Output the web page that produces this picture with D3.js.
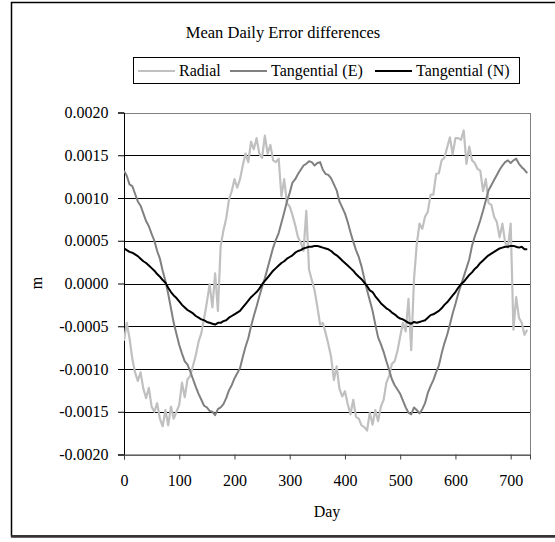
<!DOCTYPE html>
<html><head><meta charset="utf-8">
<script src="https://cdn.jsdelivr.net/npm/d3@7"></script>
<style>body{margin:0;background:#fff}svg{display:block}text{font-family:"Liberation Serif","Times New Roman",serif;fill:#000}</style>
</head><body>
<svg id="chart" width="555" height="542"></svg>
<script>
// Data: values in units of 1e-4 m, one sample every 5 days (day 0 .. 730)
const dayStep = 5;
const radial = [-6.7,-4.6,-6.4,-8.8,-10.4,-11.4,-10.4,-12.3,-13.4,-12.2,-14.4,-15.0,-14.0,-15.8,-16.7,-14.8,-16.6,-14.4,-15.8,-15.0,
-14.2,-11.6,-13.3,-11.2,-10.8,-9.6,-8.4,-6.8,-5.8,-4.1,-2.2,-0.1,-2.8,1.2,-3.2,4.4,6.2,7.6,9.8,10.8,
12.2,11.2,12.2,13.8,15.2,14.2,16.6,15.7,17.0,15.2,14.7,17.3,15.2,16.2,14.4,14.2,14.6,10.2,12.2,9.4,
9.0,8.0,6.8,5.4,4.8,3.8,8.5,1.6,0.4,-0.8,-2.7,-4.8,-4.6,-5.8,-7.1,-8.6,-11.3,-9.7,-12.3,-13.2,
-12.6,-14.1,-15.3,-13.6,-15.6,-15.8,-16.6,-16.8,-17.2,-15.1,-16.5,-14.8,-16.1,-14.4,-13.6,-11.6,-10.8,-9.4,-9.1,-7.9,
-6.2,-4.6,-5.6,-1.8,-7.8,0.5,4.6,7.0,6.4,7.8,8.4,10.4,10.4,12.8,12.9,14.4,14.7,15.9,17.1,15.1,
17.0,17.0,16.8,17.9,14.0,16.0,14.4,14.1,13.4,13.2,10.8,12.2,9.4,9.2,7.8,7.2,5.4,7.0,4.8,4.2,
7.0,-5.4,-1.6,-4.0,-4.6,-6.0,-5.4];
const tangentialE = [13.2,12.6,11.6,11.4,10.5,9.6,9.1,8.2,7.3,6.7,5.8,5.0,3.8,2.9,1.5,0.3,-1.2,-2.9,-4.6,-5.9,
-7.2,-8.2,-9.1,-9.5,-10.3,-11.2,-12.1,-12.9,-13.6,-14.3,-14.5,-14.9,-15.0,-15.4,-14.7,-14.5,-14.1,-13.4,-12.5,-11.9,
-11.1,-10.5,-9.9,-8.6,-7.4,-6.4,-5.0,-3.8,-2.7,-1.5,-0.4,0.6,1.8,3.0,4.2,5.1,5.9,7.1,8.3,9.6,
10.6,11.8,12.2,12.8,13.3,13.8,14.0,14.3,14.2,13.8,14.1,14.2,13.3,12.8,12.7,12.3,11.6,10.9,9.6,8.9,
8.2,7.2,6.0,4.9,3.9,3.1,2.0,0.6,-0.8,-2.0,-3.2,-4.8,-6.3,-7.1,-8.0,-9.1,-10.1,-11.2,-11.9,-12.4,
-12.9,-13.7,-14.5,-15.1,-15.3,-14.5,-14.8,-15.2,-14.7,-14.0,-12.8,-12.0,-11.3,-10.4,-9.6,-8.2,-7.0,-6.0,-4.8,-3.5,
-2.4,-1.2,-0.2,0.8,1.8,2.8,4.4,5.5,6.4,7.4,8.5,9.7,10.9,11.5,12.1,12.7,13.3,13.8,14.2,14.4,
14.1,14.4,14.6,14.0,13.6,13.3,12.9];
const tangentialN = [4.1,3.9,3.7,3.6,3.4,3.2,2.9,2.6,2.4,2.1,1.8,1.5,1.1,0.8,0.4,0.1,-0.5,-1.0,-1.4,-1.7,
-2.1,-2.5,-2.8,-3.1,-3.3,-3.5,-3.8,-4.0,-4.2,-4.3,-4.5,-4.6,-4.7,-4.8,-4.6,-4.6,-4.4,-4.3,-4.0,-3.8,
-3.6,-3.4,-3.2,-2.8,-2.4,-2.0,-1.6,-1.3,-1.0,-0.6,-0.1,0.3,0.7,1.1,1.5,1.8,2.1,2.4,2.6,2.9,
3.1,3.3,3.6,3.8,3.9,4.1,4.2,4.3,4.3,4.4,4.4,4.3,4.2,4.1,4.0,3.8,3.5,3.3,3.0,2.7,
2.4,2.1,1.8,1.5,1.1,0.8,0.5,0.1,-0.3,-0.8,-1.0,-1.5,-1.9,-2.3,-2.6,-2.9,-3.1,-3.4,-3.6,-3.9,
-4.1,-4.2,-4.4,-4.6,-4.7,-4.5,-4.6,-4.5,-4.4,-4.3,-4.0,-3.7,-3.6,-3.4,-3.2,-2.9,-2.5,-2.2,-1.8,-1.4,
-1.0,-0.5,-0.1,0.2,0.6,1.0,1.3,1.7,2.0,2.4,2.7,3.0,3.3,3.5,3.7,3.9,4.1,4.2,4.3,4.3,
4.4,4.4,4.3,4.2,4.3,4.0,4.0];
const valueUnit = 1e-4;
const seriesNames = ["Radial","Tangential (E)","Tangential (N)"];
const seriesColors = ["#c0c0c0","#808080","#000000"];
const yTicks = [-0.002,-0.0015,-0.001,-0.0005,0,0.0005,0.001,0.0015,0.002];
const xTicks = [0,100,200,300,400,500,600,700];
const titleText = "Mean Daily Error differences";
const xLabel = "Day", yLabel = "m";

const FS = "16px";
const svg = d3.select("#chart");
const plot = {left:124, right:530, top:112.5, bottom:454.5};
const x = d3.scaleLinear().domain([0,735]).range([plot.left, plot.right]);
const y = d3.scaleLinear().domain([-0.002,0.002]).range([plot.bottom, plot.top]);

// outer frame
svg.append("rect").attr("x",11.5).attr("y",2.5).attr("width",600).attr("height",533.5)
  .attr("fill","none").attr("stroke","#000").attr("stroke-width",1.5);
svg.append("line").attr("x1",11).attr("x2",555).attr("y1",536.5).attr("y2",536.5)
  .attr("stroke","#333").attr("stroke-width",2.5);

// title
svg.append("text").attr("x",283).attr("y",38).attr("text-anchor","middle")
  .style("font-size","16.5px").text(titleText);

// gridlines
svg.append("g").selectAll("line").data(yTicks.filter(t=>t>-0.002 && t<0.002)).join("line")
  .attr("x1",plot.left).attr("x2",plot.right)
  .attr("y1",d=>Math.round(y(d))+0.5).attr("y2",d=>Math.round(y(d))+0.5)
  .attr("stroke","#000").attr("stroke-width",1);

// plot border
svg.append("rect").attr("x",plot.left+0.5).attr("y",Math.round(plot.top)+0.5)
  .attr("width",plot.right-plot.left).attr("height",Math.round(plot.bottom)-Math.round(plot.top))
  .attr("fill","none").attr("stroke","#808080").attr("stroke-width",1);

// axes
const yAxis = d3.axisLeft(y).tickValues(yTicks).tickSize(6).tickPadding(9.5)
  .tickFormat(d=>d3.format(".4f")(d).replace("−","-"));
const gy = svg.append("g").attr("transform",`translate(${plot.left},0)`).call(yAxis);
gy.select(".domain").attr("stroke","#000");
gy.selectAll(".tick line").attr("stroke","#000");
gy.selectAll("text").style("font-size",FS).attr("fill","#000");

const xAxis = d3.axisBottom(x).tickValues(xTicks).tickSize(5).tickPadding(15).tickFormat(d3.format("d"));
const gx = svg.append("g").attr("transform",`translate(0,${plot.bottom})`).call(xAxis);
gx.select(".domain").attr("stroke","#404040");
gx.selectAll(".tick line").attr("stroke","#404040");
gx.selectAll("text").style("font-size",FS).attr("fill","#000");

svg.append("text").attr("x",327).attr("y",517).attr("text-anchor","middle").style("font-size",FS).text(xLabel);
svg.append("text").attr("transform","translate(42,283) rotate(-90)").attr("text-anchor","middle")
  .style("font-size",FS).text(yLabel);

// lines
const allSeries = [radial, tangentialE, tangentialN];
const line = d3.line().x((d,i)=>x(i*dayStep)).y(d=>y(d*valueUnit));
const clip = svg.append("defs").append("clipPath").attr("id","clip").append("rect")
  .attr("x",plot.left).attr("y",plot.top-3).attr("width",plot.right-plot.left).attr("height",plot.bottom-plot.top+6);
svg.append("g").attr("clip-path","url(#clip)").selectAll("path").data(allSeries).join("path")
  .attr("d",line).attr("fill","none").attr("stroke",(d,i)=>seriesColors[i])
  .attr("stroke-width",(d,i)=>i===0?2.2:2).attr("stroke-linejoin","round");

// legend
const lg = svg.append("g");
lg.append("rect").attr("x",133.5).attr("y",57.5).attr("width",386).attr("height",26)
  .attr("fill","#fff").attr("stroke","#000").attr("stroke-width",1);
const legX = [138, 230, 375];
seriesNames.forEach((n,i)=>{
  lg.append("line").attr("x1",legX[i]).attr("x2",legX[i]+37).attr("y1",71).attr("y2",71)
    .attr("stroke",seriesColors[i]).attr("stroke-width",2);
  lg.append("text").attr("x",legX[i]+41).attr("y",76).style("font-size",FS).text(n);
});
</script>
</body></html>
